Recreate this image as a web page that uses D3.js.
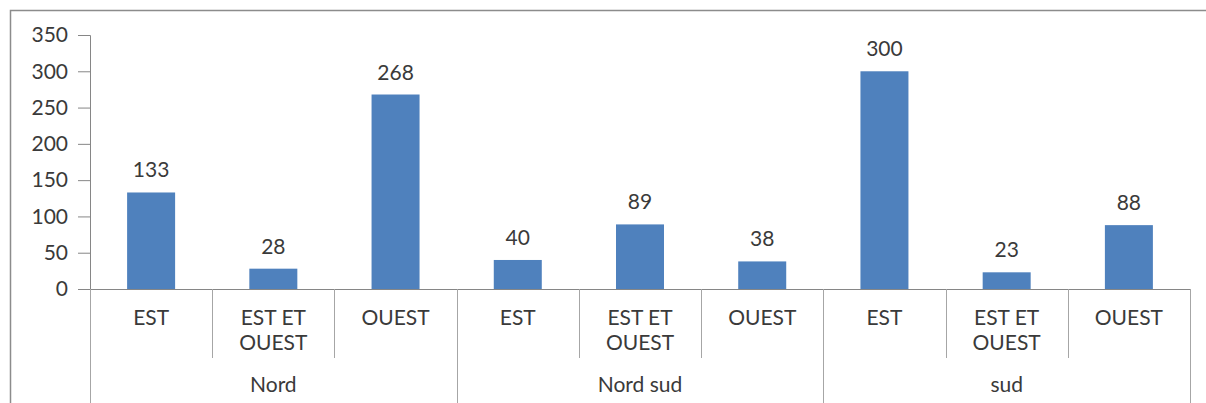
<!DOCTYPE html>
<html><head><meta charset="utf-8">
<script src="https://cdn.jsdelivr.net/npm/d3@7"></script>
<style>body{margin:0;background:#fff}svg{display:block}text{font-family:Lato,"Open Sans",sans-serif}</style>
</head><body><svg id="c" width="1206" height="403"></svg>
<script>
const groups = ["Nord", "Nord sud", "sud"];
const subcats = ["EST", "EST ET OUEST", "OUEST"];
const values = [133, 28, 268, 40, 89, 38, 300, 23, 88];
const yTicks = [0, 50, 100, 150, 200, 250, 300, 350];

const svg = d3.select("#c");
const plotLeft = 90, plotRight = 1190, plotTop = 35, zeroY = 289;
const FS = 21;
const keys = values.map((v, i) => i);
const x = d3.scaleBand().domain(keys).range([plotLeft, plotRight]).paddingInner(0).paddingOuter(0);
const y = d3.scaleLinear().domain([0, 350]).range([zeroY, plotTop]);

// frame
svg.append("rect").attr("x", 10.5).attr("y", 10.5).attr("width", 1220).attr("height", 420)
  .attr("fill", "none").attr("stroke", "#8c8c8c").attr("stroke-width", 1.5);

// y axis
const ya = svg.append("g").attr("transform", `translate(${plotLeft},0)`)
  .call(d3.axisLeft(y).tickValues(yTicks).tickSize(12).tickPadding(10));
ya.select(".domain").attr("stroke", "#868686");
ya.selectAll(".tick line").attr("stroke", "#868686");
ya.selectAll(".tick text").attr("font-size", FS).attr("fill", "#3a3a3a");

// bars
const bw = 48;
svg.append("g").selectAll("rect").data(values).join("rect")
  .attr("x", (d, i) => x(i) + x.bandwidth() / 2 - bw / 2)
  .attr("y", d => y(d)).attr("width", bw).attr("height", d => zeroY - y(d))
  .attr("fill", "#4F81BD");
svg.append("g").selectAll("text").data(values).join("text")
  .attr("x", (d, i) => x(i) + x.bandwidth() / 2).attr("y", d => y(d) - 15)
  .attr("text-anchor", "middle").attr("font-size", FS).attr("fill", "#3a3a3a").text(d => d);

// x axis base
svg.append("line").attr("x1", plotLeft).attr("x2", plotRight).attr("y1", zeroY + 0.5).attr("y2", zeroY + 0.5).attr("stroke", "#868686");

// separators
const g = svg.append("g").attr("stroke", "#a6a6a6");
d3.range(values.length + 1).forEach(i => {
  const xx = i < values.length ? x(i) : plotRight;
  const isGroup = i % 3 === 0;
  g.append("line").attr("x1", Math.round(xx) + 0.5).attr("x2", Math.round(xx) + 0.5)
    .attr("y1", zeroY).attr("y2", isGroup ? 403 : 358);
});

// sub labels
const lab = svg.append("g").attr("font-size", FS).attr("fill", "#3a3a3a").attr("text-anchor", "middle");
values.forEach((v, i) => {
  const s = subcats[i % 3];
  const cx = x(i) + x.bandwidth() / 2;
  const words = s === "EST ET OUEST" ? ["EST ET", "OUEST"] : [s];
  words.forEach((w, k) => lab.append("text").attr("x", cx).attr("y", 325 + k * 25).text(w));
});
groups.forEach((gname, gi) => {
  const cx = (x(gi * 3) + (gi * 3 + 3 < values.length ? x(gi * 3 + 3) : plotRight)) / 2;
  lab.append("text").attr("x", cx).attr("y", 392).text(gname);
});
</script></body></html>
